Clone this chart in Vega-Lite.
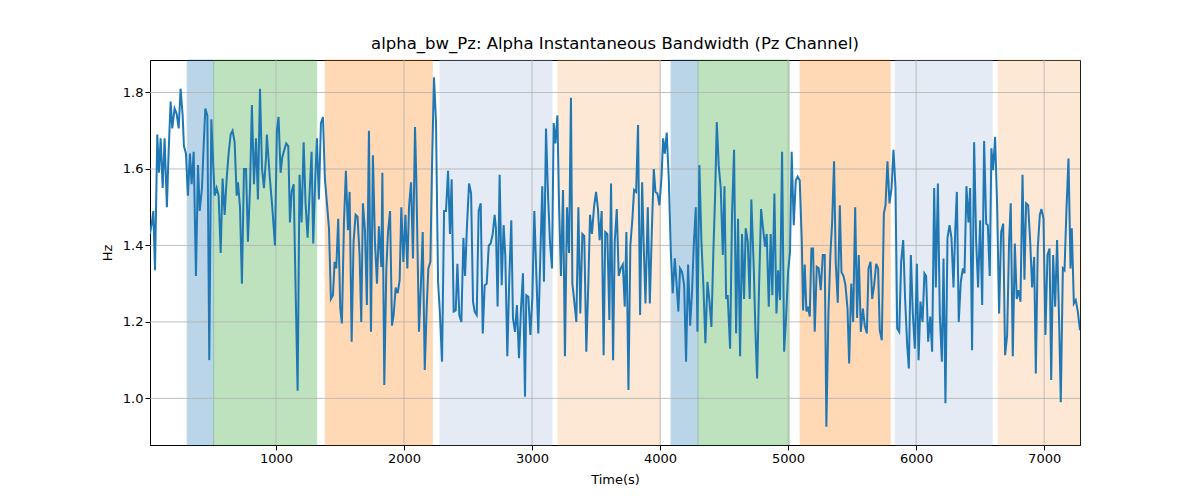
{
  "$schema": "https://vega.github.io/schema/vega-lite/v6.json",
  "width": 930,
  "height": 385,
  "autosize": {"type": "none"},
  "padding": {"left": 150, "top": 60, "right": 120, "bottom": 55},
  "background": "white",
  "title": {
    "text": "alpha_bw_Pz: Alpha Instantaneous Bandwidth (Pz Channel)",
    "font": "DejaVu Sans",
    "fontSize": 16.5,
    "fontWeight": "normal",
    "color": "black",
    "offset": 7
  },
  "config": {
    "font": "DejaVu Sans",
    "view": {"stroke": "black", "strokeWidth": 1},
    "axis": {
      "labelFont": "DejaVu Sans",
      "labelFontSize": 13,
      "labelColor": "black",
      "titleFont": "DejaVu Sans",
      "titleFontSize": 13,
      "titleFontWeight": "normal",
      "titleColor": "black",
      "tickColor": "black",
      "tickSize": 5,
      "domainColor": "black",
      "grid": false
    }
  },
  "datasets": {
    "bands": [
      {"start": 307, "end": 513, "kind": "blue"},
      {"start": 513, "end": 1318, "kind": "green"},
      {"start": 1385, "end": 2221, "kind": "orange"},
      {"start": 2281, "end": 3156, "kind": "lightblue"},
      {"start": 3203, "end": 4003, "kind": "lightorange"},
      {"start": 4086, "end": 4297, "kind": "blue"},
      {"start": 4297, "end": 5010, "kind": "green"},
      {"start": 5094, "end": 5797, "kind": "orange"},
      {"start": 5836, "end": 6594, "kind": "lightblue"},
      {"start": 6641, "end": 7280, "kind": "lightorange"}
    ],
    "xgrid": [{"t": 1000}, {"t": 2000}, {"t": 3000}, {"t": 4000}, {"t": 5000}, {"t": 6000}, {"t": 7000}],
    "ygrid": [{"hz": 1.0}, {"hz": 1.2}, {"hz": 1.4}, {"hz": 1.6}, {"hz": 1.8}],
    "series": [
      {"t":16,"hz":1.43},{"t":31,"hz":1.46},{"t":42,"hz":1.49},{"t":55,"hz":1.335},{"t":73,"hz":1.69},{"t":86,"hz":1.59},{"t":99,"hz":1.68},{"t":115,"hz":1.55},{"t":130,"hz":1.68},{"t":148,"hz":1.50},
      {"t":161,"hz":1.64},{"t":177,"hz":1.776},{"t":190,"hz":1.706},{"t":208,"hz":1.758},{"t":224,"hz":1.745},{"t":240,"hz":1.706},{"t":255,"hz":1.81},{"t":271,"hz":1.74},{"t":281,"hz":1.66},{"t":297,"hz":1.64},
      {"t":312,"hz":1.53},{"t":328,"hz":1.64},{"t":341,"hz":1.56},{"t":357,"hz":1.645},{"t":375,"hz":1.32},{"t":391,"hz":1.61},{"t":404,"hz":1.49},{"t":422,"hz":1.55},{"t":435,"hz":1.66},{"t":448,"hz":1.758},
      {"t":464,"hz":1.74},{"t":479,"hz":1.10},{"t":495,"hz":1.73},{"t":510,"hz":1.61},{"t":521,"hz":1.53},{"t":536,"hz":1.55},{"t":552,"hz":1.53},{"t":568,"hz":1.38},{"t":583,"hz":1.575},{"t":599,"hz":1.48},
      {"t":615,"hz":1.575},{"t":630,"hz":1.64},{"t":646,"hz":1.69},{"t":661,"hz":1.70},{"t":677,"hz":1.67},{"t":693,"hz":1.53},{"t":703,"hz":1.565},{"t":719,"hz":1.50},{"t":734,"hz":1.30},{"t":750,"hz":1.60},
      {"t":766,"hz":1.60},{"t":781,"hz":1.41},{"t":797,"hz":1.55},{"t":812,"hz":1.767},{"t":828,"hz":1.56},{"t":844,"hz":1.68},{"t":859,"hz":1.52},{"t":875,"hz":1.81},{"t":891,"hz":1.60},{"t":906,"hz":1.55},
      {"t":922,"hz":1.63},{"t":929,"hz":1.69},{"t":950,"hz":1.585},{"t":971,"hz":1.50},{"t":992,"hz":1.40},{"t":1007,"hz":1.70},{"t":1020,"hz":1.736},{"t":1036,"hz":1.59},{"t":1049,"hz":1.63},{"t":1065,"hz":1.65},
      {"t":1080,"hz":1.667},{"t":1096,"hz":1.66},{"t":1109,"hz":1.46},{"t":1122,"hz":1.54},{"t":1138,"hz":1.56},{"t":1153,"hz":1.29},{"t":1169,"hz":1.02},{"t":1184,"hz":1.585},{"t":1200,"hz":1.46},{"t":1216,"hz":1.67},
      {"t":1231,"hz":1.51},{"t":1247,"hz":1.42},{"t":1263,"hz":1.54},{"t":1278,"hz":1.645},{"t":1291,"hz":1.405},{"t":1307,"hz":1.575},{"t":1320,"hz":1.68},{"t":1335,"hz":1.52},{"t":1351,"hz":1.72},{"t":1367,"hz":1.736},
      {"t":1382,"hz":1.575},{"t":1398,"hz":1.51},{"t":1414,"hz":1.445},{"t":1429,"hz":1.26},{"t":1445,"hz":1.27},{"t":1458,"hz":1.357},{"t":1471,"hz":1.34},{"t":1486,"hz":1.47},{"t":1502,"hz":1.235},{"t":1515,"hz":1.196},
      {"t":1531,"hz":1.46},{"t":1546,"hz":1.595},{"t":1562,"hz":1.44},{"t":1575,"hz":1.54},{"t":1591,"hz":1.148},{"t":1606,"hz":1.41},{"t":1622,"hz":1.48},{"t":1637,"hz":1.475},{"t":1653,"hz":1.375},{"t":1666,"hz":1.20},
      {"t":1679,"hz":1.51},{"t":1695,"hz":1.44},{"t":1710,"hz":1.244},{"t":1726,"hz":1.70},{"t":1742,"hz":1.174},{"t":1757,"hz":1.636},{"t":1773,"hz":1.41},{"t":1789,"hz":1.30},{"t":1804,"hz":1.45},{"t":1813,"hz":1.40},
      {"t":1823,"hz":1.344},{"t":1831,"hz":1.59},{"t":1846,"hz":1.035},{"t":1862,"hz":1.34},{"t":1875,"hz":1.435},{"t":1891,"hz":1.49},{"t":1906,"hz":1.19},{"t":1919,"hz":1.218},{"t":1935,"hz":1.29},{"t":1951,"hz":1.275},
      {"t":1966,"hz":1.31},{"t":1979,"hz":1.50},{"t":1995,"hz":1.357},{"t":2011,"hz":1.48},{"t":2026,"hz":1.34},{"t":2039,"hz":1.50},{"t":2055,"hz":1.565},{"t":2070,"hz":1.366},{"t":2086,"hz":1.71},{"t":2096,"hz":1.575},
      {"t":2117,"hz":1.174},{"t":2133,"hz":1.305},{"t":2146,"hz":1.435},{"t":2162,"hz":1.074},{"t":2177,"hz":1.235},{"t":2190,"hz":1.34},{"t":2206,"hz":1.357},{"t":2219,"hz":1.61},{"t":2234,"hz":1.84},{"t":2250,"hz":1.723},
      {"t":2266,"hz":1.305},{"t":2281,"hz":1.218},{"t":2297,"hz":1.096},{"t":2313,"hz":1.49},{"t":2328,"hz":1.49},{"t":2344,"hz":1.595},{"t":2359,"hz":1.43},{"t":2372,"hz":1.573},{"t":2388,"hz":1.227},{"t":2404,"hz":1.23},
      {"t":2417,"hz":1.352},{"t":2432,"hz":1.218},{"t":2448,"hz":1.20},{"t":2464,"hz":1.42},{"t":2477,"hz":1.32},{"t":2492,"hz":1.453},{"t":2508,"hz":1.562},{"t":2524,"hz":1.536},{"t":2539,"hz":1.253},{"t":2552,"hz":1.227},
      {"t":2568,"hz":1.218},{"t":2583,"hz":1.49},{"t":2599,"hz":1.51},{"t":2615,"hz":1.17},{"t":2630,"hz":1.296},{"t":2646,"hz":1.30},{"t":2662,"hz":1.40},{"t":2677,"hz":1.405},{"t":2693,"hz":1.43},{"t":2708,"hz":1.48},
      {"t":2718,"hz":1.445},{"t":2731,"hz":1.24},{"t":2747,"hz":1.585},{"t":2763,"hz":1.296},{"t":2778,"hz":1.453},{"t":2791,"hz":1.375},{"t":2807,"hz":1.11},{"t":2823,"hz":1.32},{"t":2838,"hz":1.466},{"t":2851,"hz":1.21},
      {"t":2867,"hz":1.174},{"t":2882,"hz":1.244},{"t":2898,"hz":1.105},{"t":2914,"hz":1.235},{"t":2929,"hz":1.327},{"t":2945,"hz":1.004},{"t":2955,"hz":1.27},{"t":2971,"hz":1.266},{"t":2987,"hz":1.166},{"t":3002,"hz":1.26},
      {"t":3018,"hz":1.49},{"t":3034,"hz":1.32},{"t":3049,"hz":1.17},{"t":3065,"hz":1.375},{"t":3080,"hz":1.555},{"t":3093,"hz":1.305},{"t":3109,"hz":1.706},{"t":3125,"hz":1.53},{"t":3140,"hz":1.41},{"t":3156,"hz":1.34},
      {"t":3169,"hz":1.72},{"t":3182,"hz":1.667},{"t":3198,"hz":1.74},{"t":3211,"hz":1.505},{"t":3226,"hz":1.32},{"t":3242,"hz":1.545},{"t":3257,"hz":1.11},{"t":3273,"hz":1.50},{"t":3289,"hz":1.38},{"t":3304,"hz":1.786},
      {"t":3315,"hz":1.30},{"t":3330,"hz":1.253},{"t":3346,"hz":1.20},{"t":3362,"hz":1.50},{"t":3377,"hz":1.222},{"t":3393,"hz":1.43},{"t":3408,"hz":1.425},{"t":3424,"hz":1.122},{"t":3440,"hz":1.305},{"t":3453,"hz":1.48},
      {"t":3468,"hz":1.43},{"t":3484,"hz":1.50},{"t":3500,"hz":1.54},{"t":3515,"hz":1.495},{"t":3528,"hz":1.414},{"t":3544,"hz":1.49},{"t":3559,"hz":1.113},{"t":3572,"hz":1.435},{"t":3588,"hz":1.43},{"t":3604,"hz":1.205},
      {"t":3617,"hz":1.562},{"t":3633,"hz":1.10},{"t":3646,"hz":1.41},{"t":3662,"hz":1.495},{"t":3677,"hz":1.32},{"t":3693,"hz":1.34},{"t":3709,"hz":1.35},{"t":3724,"hz":1.24},{"t":3737,"hz":1.435},{"t":3753,"hz":1.022},
      {"t":3768,"hz":1.40},{"t":3784,"hz":1.47},{"t":3797,"hz":1.545},{"t":3813,"hz":1.54},{"t":3828,"hz":1.715},{"t":3844,"hz":1.218},{"t":3860,"hz":1.565},{"t":3873,"hz":1.392},{"t":3886,"hz":1.248},{"t":3904,"hz":1.50},
      {"t":3920,"hz":1.248},{"t":3935,"hz":1.43},{"t":3951,"hz":1.60},{"t":3964,"hz":1.54},{"t":3979,"hz":1.536},{"t":3995,"hz":1.505},{"t":4011,"hz":1.575},{"t":4024,"hz":1.68},{"t":4037,"hz":1.64},{"t":4052,"hz":1.695},
      {"t":4068,"hz":1.575},{"t":4084,"hz":1.383},{"t":4099,"hz":1.275},{"t":4115,"hz":1.366},{"t":4128,"hz":1.305},{"t":4143,"hz":1.227},{"t":4156,"hz":1.34},{"t":4172,"hz":1.33},{"t":4188,"hz":1.296},{"t":4203,"hz":1.096},
      {"t":4219,"hz":1.35},{"t":4235,"hz":1.19},{"t":4250,"hz":1.28},{"t":4263,"hz":1.40},{"t":4279,"hz":1.50},{"t":4292,"hz":1.174},{"t":4307,"hz":1.61},{"t":4323,"hz":1.41},{"t":4339,"hz":1.29},{"t":4354,"hz":1.144},
      {"t":4370,"hz":1.305},{"t":4386,"hz":1.253},{"t":4401,"hz":1.187},{"t":4417,"hz":1.392},{"t":4430,"hz":1.53},{"t":4443,"hz":1.723},{"t":4458,"hz":1.61},{"t":4474,"hz":1.55},{"t":4490,"hz":1.375},{"t":4503,"hz":1.555},
      {"t":4516,"hz":1.26},{"t":4528,"hz":1.27},{"t":4547,"hz":1.13},{"t":4562,"hz":1.48},{"t":4578,"hz":1.65},{"t":4594,"hz":1.17},{"t":4609,"hz":1.47},{"t":4625,"hz":1.11},{"t":4640,"hz":1.43},{"t":4656,"hz":1.26},
      {"t":4669,"hz":1.445},{"t":4685,"hz":1.41},{"t":4700,"hz":1.26},{"t":4713,"hz":1.52},{"t":4732,"hz":1.34},{"t":4745,"hz":1.174},{"t":4758,"hz":1.052},{"t":4773,"hz":1.29},{"t":4789,"hz":1.495},{"t":4804,"hz":1.445},
      {"t":4820,"hz":1.397},{"t":4833,"hz":1.43},{"t":4849,"hz":1.24},{"t":4864,"hz":1.43},{"t":4877,"hz":1.27},{"t":4893,"hz":1.536},{"t":4909,"hz":1.222},{"t":4922,"hz":1.335},{"t":4937,"hz":1.257},{"t":4953,"hz":1.645},
      {"t":4969,"hz":1.122},{"t":4984,"hz":1.21},{"t":5000,"hz":1.33},{"t":5015,"hz":1.383},{"t":5028,"hz":1.645},{"t":5044,"hz":1.453},{"t":5060,"hz":1.57},{"t":5075,"hz":1.58},{"t":5091,"hz":1.57},{"t":5107,"hz":1.41},
      {"t":5117,"hz":1.23},{"t":5130,"hz":1.35},{"t":5143,"hz":1.227},{"t":5156,"hz":1.24},{"t":5169,"hz":1.214},{"t":5182,"hz":1.392},{"t":5195,"hz":1.392},{"t":5208,"hz":1.174},{"t":5224,"hz":1.344},{"t":5239,"hz":1.34},
      {"t":5255,"hz":1.283},{"t":5271,"hz":1.375},{"t":5286,"hz":1.375},{"t":5299,"hz":0.926},{"t":5315,"hz":1.222},{"t":5330,"hz":1.375},{"t":5344,"hz":1.46},{"t":5359,"hz":1.62},{"t":5372,"hz":1.357},{"t":5388,"hz":1.25},
      {"t":5404,"hz":1.505},{"t":5417,"hz":1.33},{"t":5433,"hz":1.32},{"t":5448,"hz":1.296},{"t":5464,"hz":1.235},{"t":5477,"hz":1.091},{"t":5493,"hz":1.30},{"t":5508,"hz":1.20},{"t":5524,"hz":1.50},{"t":5539,"hz":1.21},
      {"t":5552,"hz":1.375},{"t":5568,"hz":1.174},{"t":5584,"hz":1.235},{"t":5599,"hz":1.19},{"t":5615,"hz":1.17},{"t":5628,"hz":1.34},{"t":5644,"hz":1.357},{"t":5657,"hz":1.26},{"t":5672,"hz":1.296},{"t":5688,"hz":1.352},
      {"t":5703,"hz":1.34},{"t":5716,"hz":1.178},{"t":5732,"hz":1.152},{"t":5748,"hz":1.484},{"t":5761,"hz":1.505},{"t":5776,"hz":1.62},{"t":5792,"hz":1.51},{"t":5808,"hz":1.55},{"t":5823,"hz":1.65},{"t":5839,"hz":1.55},
      {"t":5852,"hz":1.183},{"t":5868,"hz":1.174},{"t":5883,"hz":1.357},{"t":5899,"hz":1.414},{"t":5914,"hz":1.26},{"t":5930,"hz":1.14},{"t":5943,"hz":1.078},{"t":5959,"hz":1.375},{"t":5974,"hz":1.222},{"t":5990,"hz":1.13},
      {"t":6006,"hz":1.352},{"t":6019,"hz":1.10},{"t":6034,"hz":1.253},{"t":6050,"hz":1.20},{"t":6065,"hz":1.327},{"t":6078,"hz":1.32},{"t":6094,"hz":1.148},{"t":6110,"hz":1.214},{"t":6125,"hz":1.122},{"t":6141,"hz":1.55},
      {"t":6154,"hz":1.29},{"t":6170,"hz":1.562},{"t":6185,"hz":1.218},{"t":6201,"hz":1.096},{"t":6214,"hz":1.366},{"t":6229,"hz":0.987},{"t":6245,"hz":1.42},{"t":6261,"hz":1.453},{"t":6276,"hz":1.42},{"t":6292,"hz":1.29},
      {"t":6305,"hz":1.435},{"t":6318,"hz":1.54},{"t":6333,"hz":1.20},{"t":6349,"hz":1.305},{"t":6365,"hz":1.34},{"t":6378,"hz":1.327},{"t":6393,"hz":1.555},{"t":6409,"hz":1.46},{"t":6422,"hz":1.55},{"t":6437,"hz":1.126},
      {"t":6453,"hz":1.67},{"t":6469,"hz":1.41},{"t":6484,"hz":1.29},{"t":6500,"hz":1.466},{"t":6516,"hz":1.244},{"t":6531,"hz":1.673},{"t":6547,"hz":1.457},{"t":6560,"hz":1.453},{"t":6575,"hz":1.32},{"t":6588,"hz":1.654},
      {"t":6601,"hz":1.597},{"t":6617,"hz":1.684},{"t":6633,"hz":1.50},{"t":6648,"hz":1.222},{"t":6664,"hz":1.435},{"t":6680,"hz":1.457},{"t":6695,"hz":1.113},{"t":6711,"hz":1.166},{"t":6726,"hz":1.41},{"t":6739,"hz":1.51},
      {"t":6755,"hz":1.11},{"t":6771,"hz":1.405},{"t":6786,"hz":1.26},{"t":6799,"hz":1.283},{"t":6815,"hz":1.253},{"t":6831,"hz":1.585},{"t":6846,"hz":1.31},{"t":6859,"hz":1.51},{"t":6875,"hz":1.505},{"t":6891,"hz":1.41},
      {"t":6906,"hz":1.29},{"t":6922,"hz":1.37},{"t":6935,"hz":1.065},{"t":6950,"hz":1.392},{"t":6966,"hz":1.48},{"t":6979,"hz":1.495},{"t":6995,"hz":1.47},{"t":7010,"hz":1.166},{"t":7026,"hz":1.375},{"t":7042,"hz":1.392},
      {"t":7055,"hz":1.048},{"t":7070,"hz":1.375},{"t":7086,"hz":1.24},{"t":7101,"hz":1.414},{"t":7117,"hz":1.20},{"t":7130,"hz":0.99},{"t":7146,"hz":1.34},{"t":7159,"hz":1.335},{"t":7174,"hz":1.49},{"t":7190,"hz":1.627},
      {"t":7206,"hz":1.34},{"t":7216,"hz":1.445},{"t":7232,"hz":1.248},{"t":7247,"hz":1.257},{"t":7263,"hz":1.227},{"t":7280,"hz":1.178}
    ]
  },
  "layer": [
    {
      "data": {"name": "bands"},
      "mark": {"type": "rect", "opacity": 0.3, "strokeWidth": 1},
      "encoding": {
        "x": {
          "field": "start",
          "type": "quantitative",
          "scale": {"domain": [16, 7280], "nice": false, "zero": false},
          "axis": {
            "title": "Time(s)",
            "values": [1000, 2000, 3000, 4000, 5000, 6000, 7000],
            "format": "d",
            "titlePadding": 8
          }
        },
        "x2": {"field": "end"},
        "color": {
          "field": "kind",
          "type": "nominal",
          "scale": {
            "domain": ["blue", "green", "orange", "lightblue", "lightorange"],
            "range": ["#1f77b4", "#2ca02c", "#ff7f0e", "#a8c0e1", "#f8b676"]
          },
          "legend": null
        },
        "stroke": {
          "field": "kind",
          "type": "nominal",
          "scale": {
            "domain": ["blue", "green", "orange", "lightblue", "lightorange"],
            "range": ["#1f77b4", "#2ca02c", "#ff7f0e", "#a8c0e1", "#f8b676"]
          },
          "legend": null
        }
      }
    },
    {
      "data": {"name": "xgrid"},
      "mark": {"type": "rule", "color": "#b0b0b0", "strokeWidth": 0.8},
      "encoding": {"x": {"field": "t", "type": "quantitative"}}
    },
    {
      "data": {"name": "ygrid"},
      "mark": {"type": "rule", "color": "#b0b0b0", "strokeWidth": 0.8},
      "encoding": {"y": {"field": "hz", "type": "quantitative"}}
    },
    {
      "data": {"name": "series"},
      "mark": {"type": "line", "color": "#1f77b4", "strokeWidth": 2, "clip": true},
      "encoding": {
        "x": {"field": "t", "type": "quantitative"},
        "y": {
          "field": "hz",
          "type": "quantitative",
          "scale": {"domain": [0.878, 1.885], "nice": false, "zero": false},
          "axis": {
            "title": "Hz",
            "values": [1.0, 1.2, 1.4, 1.6, 1.8],
            "format": ".1f",
            "titlePadding": 8
          }
        }
      }
    }
  ]
}
